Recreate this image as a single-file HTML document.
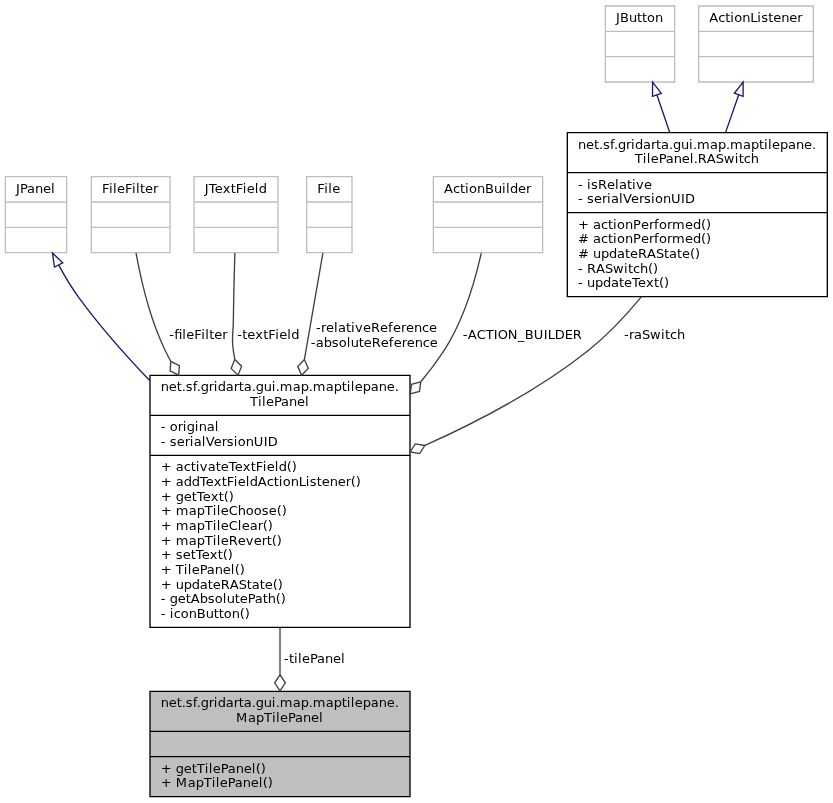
<!DOCTYPE html>
<html lang="en">
<head>
<meta charset="utf-8">
<title>net.sf.gridarta.gui.map.maptilepane.MapTilePanel collaboration diagram</title>
<style>
html,body{margin:0;padding:0;background:#fff;}
body{width:833px;height:803px;overflow:hidden;position:relative;}
svg{display:block;position:absolute;left:0;top:0;will-change:transform;}
svg path,svg polygon,svg polyline{stroke-width:1.3333px;}
svg text{font-family:"DejaVu Sans","Liberation Sans",sans-serif;font-size:13px;fill:#000;}
</style>
</head>
<body>
<svg width="833" height="803" viewBox="0 0 833 803">
<polygon fill="#bfbfbf" stroke="black" points="150,796.67 150,691.33 410,691.33 410,796.67 150,796.67"/>
<polyline fill="none" stroke="black" points="150,731.33 410,731.33"/>
<polyline fill="none" stroke="black" points="150,756.67 410,756.67"/>
<polygon fill="white" stroke="black" points="150,627.33 150,375.33 410,375.33 410,627.33 150,627.33"/>
<polyline fill="none" stroke="black" points="150,415.33 410,415.33"/>
<polyline fill="none" stroke="black" points="150,455.33 410,455.33"/>
<path fill="none" stroke="#404040" d="M280,627.59C280,643.81 280,659.91 280,674.69"/>
<polygon fill="none" stroke="#404040" points="280,674.77 274.67,682.77 280,690.77 285.33,682.77 280,674.77"/>
<polygon fill="white" stroke="#bfbfbf" points="5.33,252.67 5.33,176.67 66.67,176.67 66.67,252.67 5.33,252.67"/>
<polyline fill="none" stroke="#bfbfbf" points="5.33,202 66.67,202"/>
<polyline fill="none" stroke="#bfbfbf" points="5.33,227.33 66.67,227.33"/>
<path fill="none" stroke="midnightblue" d="M58.76,265.16C64.65,276.12 71.4,287.43 78.67,297.33 99.63,325.93 124.59,354.36 149.68,380.49"/>
<polygon fill="none" stroke="midnightblue" points="54.45,267 52.48,253.01 62.75,262.72 54.45,267"/>
<polygon fill="white" stroke="#bfbfbf" points="91.33,252.67 91.33,176.67 170,176.67 170,252.67 91.33,252.67"/>
<polyline fill="none" stroke="#bfbfbf" points="91.33,202 170,202"/>
<polyline fill="none" stroke="#bfbfbf" points="91.33,227.33 170,227.33"/>
<path fill="none" stroke="#404040" d="M136.03,252.83C141.04,280.71 150.11,319.41 165.33,350.67 167.03,354.13 168.8,357.6 170.65,361.07"/>
<polygon fill="none" stroke="#404040" points="170.79,361.29 170.11,370.89 178.69,375.21 179.37,365.63 170.79,361.29"/>
<polygon fill="white" stroke="#bfbfbf" points="194,252.67 194,176.67 278,176.67 278,252.67 194,252.67"/>
<polyline fill="none" stroke="#bfbfbf" points="194,202 278,202"/>
<polyline fill="none" stroke="#bfbfbf" points="194,227.33 278,227.33"/>
<path fill="none" stroke="#404040" d="M234.83,253.04C234.25,273.23 233.63,298.65 233.33,321.33 233.17,334.37 231.36,337.77 233.33,350.67 233.77,353.56 234.27,356.48 234.79,359.41"/>
<polygon fill="none" stroke="#404040" points="234.81,359.49 231.16,368.39 237.99,375.17 241.63,366.28 234.81,359.49"/>
<polygon fill="white" stroke="#bfbfbf" points="306.67,252.67 306.67,176.67 352,176.67 352,252.67 306.67,252.67"/>
<polyline fill="none" stroke="#bfbfbf" points="306.67,202 352,202"/>
<polyline fill="none" stroke="#bfbfbf" points="306.67,227.33 352,227.33"/>
<path fill="none" stroke="#404040" d="M322.88,253.13C318.11,280.61 311.28,319.95 304.47,359.16"/>
<polygon fill="none" stroke="#404040" points="304.4,359.56 297.77,366.53 301.65,375.33 308.28,368.36 304.4,359.56"/>
<polygon fill="white" stroke="#bfbfbf" points="433.33,252.67 433.33,176.67 542.67,176.67 542.67,252.67 433.33,252.67"/>
<polyline fill="none" stroke="#bfbfbf" points="433.33,202 542.67,202"/>
<polyline fill="none" stroke="#bfbfbf" points="433.33,227.33 542.67,227.33"/>
<path fill="none" stroke="#404040" d="M481.28,253.11C474.91,281.49 463.36,320.72 444,350.67 437.16,361.24 429.4,371.55 421.05,381.48"/>
<polygon fill="none" stroke="#404040" points="420.75,381.84 411.47,384.33 410.2,393.87 419.48,391.37 420.75,381.84"/>
<polygon fill="white" stroke="black" points="567.33,296.67 567.33,132.67 827.33,132.67 827.33,296.67 567.33,296.67"/>
<polyline fill="none" stroke="black" points="567.33,172.67 827.33,172.67"/>
<polyline fill="none" stroke="black" points="567.33,212.67 827.33,212.67"/>
<path fill="none" stroke="#404040" d="M641.29,296.81C625.52,316 607.36,335.33 588,350.67 539.36,389.21 479.16,421.16 424.92,445.48"/>
<polygon fill="none" stroke="#404040" points="424.8,445.52 415.33,443.87 410.16,451.97 419.63,453.63 424.8,445.52"/>
<polygon fill="white" stroke="#bfbfbf" points="605.33,82 605.33,6 674.67,6 674.67,82 605.33,82"/>
<polyline fill="none" stroke="#bfbfbf" points="605.33,31.33 674.67,31.33"/>
<polyline fill="none" stroke="#bfbfbf" points="605.33,56.67 674.67,56.67"/>
<path fill="none" stroke="midnightblue" d="M656.95,95C660.97,106.79 665.37,119.68 669.73,132.47"/>
<polygon fill="none" stroke="midnightblue" points="652.47,96.33 652.59,82.2 661.31,93.31 652.47,96.33"/>
<polygon fill="white" stroke="#bfbfbf" points="698.67,82 698.67,6 813.33,6 813.33,82 698.67,82"/>
<polyline fill="none" stroke="#bfbfbf" points="698.67,31.33 813.33,31.33"/>
<polyline fill="none" stroke="#bfbfbf" points="698.67,56.67 813.33,56.67"/>
<path fill="none" stroke="midnightblue" d="M738.65,95C734.53,106.79 730.04,119.68 725.57,132.47"/>
<polygon fill="none" stroke="midnightblue" points="734.32,93.25 743.12,82.2 743.13,96.33 734.32,93.25"/>
<text x="160.67 168.67 176.67 181.67 185.67 192.67 196.67 200.67 208.67 213.67 217.67 225.67 233.67 238.67 243.67 251.67 255.67 263.67 271.67 275.67 279.67 292.67 300.67 308.67 312.67 325.67 333.67 341.67 346.67 350.67 354.67 362.67 370.67 378.67 386.67 394.67" y="707">net.sf.gridarta.gui.map.maptilepane.</text>
<text x="236 248 256 264 272 276 280 288 295 303 311 319" y="722">MapTilePanel</text>
<text x="160.67 171.67 175.67 183.67 191.67 196.67 204.67 208.67 212.67 220.67 227.67 235.67 243.67 251.67 255.67 260.67" y="773">+ getTilePanel()</text>
<text x="160.67 171.67 175.67 187.67 195.67 203.67 211.67 215.67 219.67 227.67 234.67 242.67 250.67 258.67 262.67 267.67" y="787">+ MapTilePanel()</text>
<text x="160.67 168.67 176.67 181.67 185.67 192.67 196.67 200.67 208.67 213.67 217.67 225.67 233.67 238.67 243.67 251.67 255.67 263.67 271.67 275.67 279.67 292.67 300.67 308.67 312.67 325.67 333.67 341.67 346.67 350.67 354.67 362.67 370.67 378.67 386.67 394.67" y="391">net.sf.gridarta.gui.map.maptilepane.</text>
<text x="250 258 262 266 274 281 289 297 305" y="406">TilePanel</text>
<text x="160.67 165.67 169.67 177.67 182.67 186.67 194.67 198.67 206.67 214.67" y="431">- original</text>
<text x="160.67 165.67 169.67 176.67 184.67 189.67 193.67 201.67 205.67 213.67 221.67 226.67 233.67 237.67 245.67 253.67 263.67 267.67" y="446">- serialVersionUID</text>
<text x="160.67 171.67 175.67 183.67 190.67 195.67 199.67 207.67 215.67 220.67 228.67 234.67 242.67 250.67 255.67 262.67 266.67 274.67 278.67 286.67 291.67" y="471">+ activateTextField()</text>
<text x="160.67 171.67 175.67 183.67 191.67 199.67 205.67 213.67 221.67 226.67 233.67 237.67 245.67 249.67 257.67 266.67 273.67 278.67 282.67 290.67 298.67 305.67 309.67 316.67 321.67 329.67 337.67 345.67 350.67 355.67" y="486">+ addTextFieldActionListener()</text>
<text x="160.67 171.67 175.67 183.67 191.67 196.67 202.67 210.67 218.67 223.67 228.67" y="501">+ getText()</text>
<text x="160.67 171.67 175.67 188.67 196.67 204.67 212.67 216.67 220.67 228.67 237.67 245.67 253.67 261.67 268.67 276.67 281.67" y="515">+ mapTileChoose()</text>
<text x="160.67 171.67 175.67 188.67 196.67 204.67 212.67 216.67 220.67 228.67 237.67 241.67 249.67 257.67 262.67 267.67" y="530">+ mapTileClear()</text>
<text x="160.67 171.67 175.67 188.67 196.67 204.67 212.67 216.67 220.67 228.67 237.67 245.67 253.67 261.67 266.67 271.67 276.67" y="545">+ mapTileRevert()</text>
<text x="160.67 171.67 175.67 182.67 190.67 195.67 201.67 209.67 217.67 222.67 227.67" y="559">+ setText()</text>
<text x="160.67 171.67 175.67 183.67 187.67 191.67 199.67 206.67 214.67 222.67 230.67 234.67 239.67" y="574">+ TilePanel()</text>
<text x="160.67 171.67 175.67 183.67 191.67 199.67 207.67 212.67 220.67 229.67 238.67 246.67 251.67 259.67 264.67 272.67 277.67" y="589">+ updateRAState()</text>
<text x="160.67 165.67 169.67 177.67 185.67 190.67 199.67 207.67 214.67 222.67 226.67 234.67 239.67 247.67 254.67 262.67 267.67 275.67 280.67" y="603">- getAbsolutePath()</text>
<text x="160.67 165.67 169.67 173.67 180.67 188.67 196.67 205.67 213.67 218.67 223.67 231.67 239.67 244.67" y="618">- iconButton()</text>
<text x="283.92 288.92 293.92 297.92 301.92 309.92 316.92 324.92 332.92 340.92" y="663">-tilePanel</text>
<text x="16 20 27 35 43 51" y="193">JPanel</text>
<text x="101.92 108.92 112.92 116.92 124.92 131.92 135.92 139.92 144.92 152.92" y="193">FileFilter</text>
<text x="169.17 174.17" dx="0 0 0 -0.19 0.39 0 0.47 0.39 0.39 -0.09 0" y="339">-fileFilter</text>
<text x="204.75 208.75 214.75 222.75 230.75 235.75 242.75 246.75 254.75 258.75" y="193">JTextField</text>
<text x="237.17 242.17 247.17 255.17 263.17 268.17 275.17 279.17 287.17 291.17" y="339">-textField</text>
<text x="317.33 324.33 328.33 332.33" y="193">File</text>
<text x="315.92 320.92 325.92 333.92 337.92 345.92 350.92 354.92 362.92 370.92 379.92 387.92 392.92 400.92 405.92 413.92 421.92 428.92" y="332">-relativeReference</text>
<text x="310.67 315.67 323.67 331.67 338.67 346.67 350.67 358.67 363.67 371.67 380.67 388.67 393.67 401.67 406.67 414.67 422.67 429.67" y="347">-absoluteReference</text>
<text x="444 453 460 465 469 477 485 494 502 506 510 518 526" y="193">ActionBuilder</text>
<text x="462.67 467.67 476.67 485.67 493.67 497.67 507.67 517.67 524.67 533.67 543.67 547.67 554.67 564.67 572.67" y="339">-ACTION_BUILDER</text>
<text x="578 586 594 599 603 610 614 618 626 631 635 643 651 656 661 669 673 681 689 693 697 710 718 726 730 743 751 759 764 768 772 780 788 796 804 812" y="149">net.sf.gridarta.gui.map.maptilepane.</text>
<text x="634.83 642.83 646.83 650.83 658.83 665.83 673.83 681.83 689.83 693.83 697.83 706.83 715.83 723.83 734.83 738.83 743.83 750.83" y="163">TilePanel.RASwitch</text>
<text x="578 583 587 591 598 607 615 619 627 632 636 644" y="189">- isRelative</text>
<text x="578 583 587 594 602 607 611 619 623 631 639 644 651 655 663 671 681 685" y="203">- serialVersionUID</text>
<text x="578 589 593 601 608 613 617 625 633 641 649 654 659 667 672 685 693 701 706" y="229">+ actionPerformed()</text>
<text x="578 589 593 601 608 613 617 625 633 641 649 654 659 667 672 685 693 701 706" y="243"># actionPerformed()</text>
<text x="578 589 593 601 609 617 625 630 638 647 656 664 669 677 682 690 695" y="258"># updateRAState()</text>
<text x="578 583 587 596 605 613 624 628 633 640 648 653" y="273">- RASwitch()</text>
<text x="578 583 587 595 603 611 619 624 632 638 646 654 659 664" y="287">- updateText()</text>
<text x="623.92 628.92 633.92 641.92 649.92 660.92 664.92 669.92 676.92" y="339">-raSwitch</text>
<text x="616 620 629 637 642 647 655" y="22">JButton</text>
<text x="709.25 718.25 725.25 730.25 734.25 742.25 750.25 757.25 761.25 768.25 773.25 781.25 789.25 797.25" y="22">ActionListener</text>
</svg>
</body>
</html>
